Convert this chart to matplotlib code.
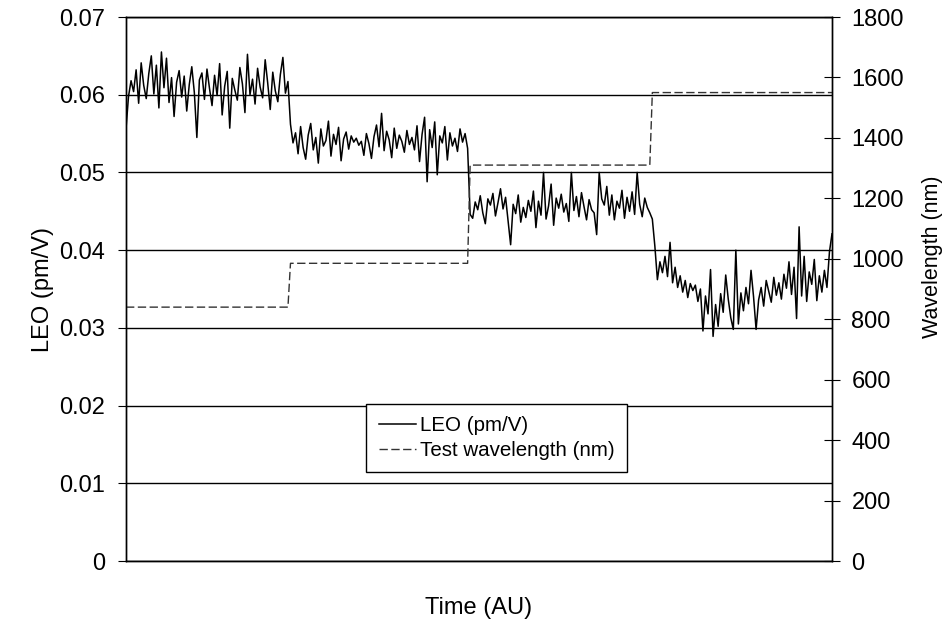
import matplotlib
matplotlib.use("Agg")
import matplotlib.pyplot as plt
import numpy as np

plt.rcParams['font.family'] = ['Liberation Sans', 'DejaVu Sans']

# LEO signal (pm/V), one list per test wavelength
leo_840 = [
    0.0556, 0.0598, 0.0618, 0.0604, 0.0632, 0.0589, 0.0641, 0.0612, 0.0595, 0.0627,
    0.0650, 0.0601, 0.0638, 0.0583, 0.0655, 0.0609, 0.0647, 0.0590, 0.0622, 0.0572,
    0.0616, 0.0631, 0.0597, 0.0624, 0.0579, 0.0613, 0.0636, 0.0603, 0.0545, 0.0619,
    0.0628, 0.0594, 0.0633, 0.0608, 0.0586, 0.0625, 0.0599, 0.0640, 0.0574, 0.0611,
    0.0630, 0.0557, 0.0621, 0.0606, 0.0593, 0.0635, 0.0614, 0.0577, 0.0652, 0.0600,
    0.0620, 0.0588, 0.0634, 0.0610, 0.0596, 0.0645, 0.0615, 0.0581, 0.0629, 0.0605,
    0.0591, 0.0626, 0.0648, 0.0602, 0.0617,
]
leo_980 = [
    0.0562, 0.0538, 0.0551, 0.0524, 0.0559, 0.0532, 0.0517, 0.0548, 0.0563, 0.0529,
    0.0545, 0.0512, 0.0556, 0.0534, 0.0541, 0.0566, 0.0521, 0.0549, 0.0536, 0.0558,
    0.0515, 0.0543, 0.0552, 0.0530, 0.0547, 0.0539, 0.0544, 0.0535, 0.0540, 0.0522,
    0.0550, 0.0537, 0.0518, 0.0546, 0.0561, 0.0533, 0.0576, 0.0528, 0.0553, 0.0542,
    0.0519, 0.0557, 0.0531, 0.0548, 0.0540, 0.0526, 0.0554, 0.0536, 0.0545, 0.0529,
    0.0560, 0.0514, 0.0549, 0.0571, 0.0488, 0.0555, 0.0532, 0.0565, 0.0497, 0.0547,
    0.0538, 0.0559, 0.0516, 0.0551, 0.0534, 0.0544, 0.0527, 0.0556, 0.0539, 0.0550,
    0.0531,
]
leo_1310 = [
    0.0446, 0.0441, 0.0462, 0.0452, 0.0470, 0.0448, 0.0434, 0.0466, 0.0458, 0.0473,
    0.0444, 0.0461, 0.0479, 0.0453, 0.0468, 0.0438, 0.0407, 0.0459, 0.0447, 0.0471,
    0.0436, 0.0455, 0.0442, 0.0464, 0.0450, 0.0476, 0.0429, 0.0463, 0.0445, 0.0500,
    0.0440, 0.0457, 0.0485, 0.0432, 0.0467, 0.0454, 0.0472, 0.0449, 0.0460, 0.0437,
    0.0500, 0.0451, 0.0469, 0.0443, 0.0474, 0.0456, 0.0439, 0.0465, 0.0452, 0.0448,
    0.0420, 0.0500, 0.0466, 0.0458, 0.0482, 0.0445, 0.0471, 0.0439, 0.0463, 0.0454,
    0.0477, 0.0441, 0.0468, 0.0450, 0.0475, 0.0446, 0.0500, 0.0459, 0.0443, 0.0467,
    0.0455, 0.0448,
]
leo_1550 = [
    0.0440, 0.0405, 0.0362, 0.0385, 0.0371, 0.0392, 0.0366, 0.0410, 0.0358, 0.0378,
    0.0352, 0.0367, 0.0346, 0.0361, 0.0339, 0.0357, 0.0348, 0.0355, 0.0334, 0.0350,
    0.0296, 0.0341, 0.0318, 0.0375, 0.0289, 0.0330, 0.0302, 0.0344, 0.0320, 0.0368,
    0.0337, 0.0313, 0.0298, 0.0400, 0.0305, 0.0345, 0.0322, 0.0352, 0.0331, 0.0374,
    0.0340, 0.0298, 0.0336, 0.0352, 0.0328, 0.0361, 0.0347, 0.0333, 0.0365, 0.0342,
    0.0358, 0.0337, 0.0369, 0.0351, 0.0385, 0.0343, 0.0378, 0.0312, 0.0430, 0.0341,
    0.0392, 0.0334, 0.0372, 0.0356, 0.0388, 0.0335, 0.0367, 0.0346, 0.0374, 0.0352,
    0.0398, 0.0421,
]

wavelengths = [840, 985, 1310, 1550]  # nm

segments = [leo_840, leo_980, leo_1310, leo_1550]
leo = np.concatenate(segments)
wl = np.repeat(wavelengths, [len(s) for s in segments])
t = np.arange(len(leo))

fig = plt.figure(figsize=(9.49, 6.21), dpi=100)
ax = fig.add_axes([126/949, 60/621, 706/949, 544/621])
ax2 = ax.twinx()

l1, = ax.plot(t, leo, color='black', lw=1.1)
l2, = ax2.plot(t, wl, color='#333333', lw=1.0, ls=(0, (6, 2.5)))

ax.set_xlim(0, len(leo) - 1)
ax.set_ylim(0, 0.07)
ax.set_yticks(np.arange(0, 0.071, 0.01))
ax.set_yticklabels(['0', '0.01', '0.02', '0.03', '0.04', '0.05', '0.06', '0.07'])
ax.set_xticks([])
ax.grid(axis='y', color='black', lw=1.0)
ax.tick_params(axis='y', direction='out', length=6, width=0.8, pad=9, labelsize=17)

ax2.set_ylim(0, 1800)
ax2.set_yticks(np.arange(0, 1801, 200))
ax2.tick_params(axis='y', direction='inout', length=12, width=0.8, pad=8, labelsize=17)

for a in (ax, ax2):
    for s in a.spines.values():
        s.set_color('black')
        s.set_linewidth(1.0)

ax.set_ylabel('LEO (pm/V)', fontsize=17, labelpad=4)
ax2.set_ylabel('Wavelength (nm)', fontsize=15.5, labelpad=13, y=0.56)
ax.set_xlabel('Time (AU)', fontsize=17, labelpad=26)

leg = ax2.legend([l1, l2], ['LEO (pm/V)', 'Test wavelength (nm)'],
                 loc='center', bbox_to_anchor=(0.525, 0.226), fontsize=14.8,
                 frameon=True, fancybox=False, framealpha=1, edgecolor='black',
                 handlelength=1.8, handletextpad=0.2, borderpad=0.6,
                 labelspacing=0.3, borderaxespad=0)
leg.get_frame().set_linewidth(1.0)

fig.savefig('out.png', dpi=100)
